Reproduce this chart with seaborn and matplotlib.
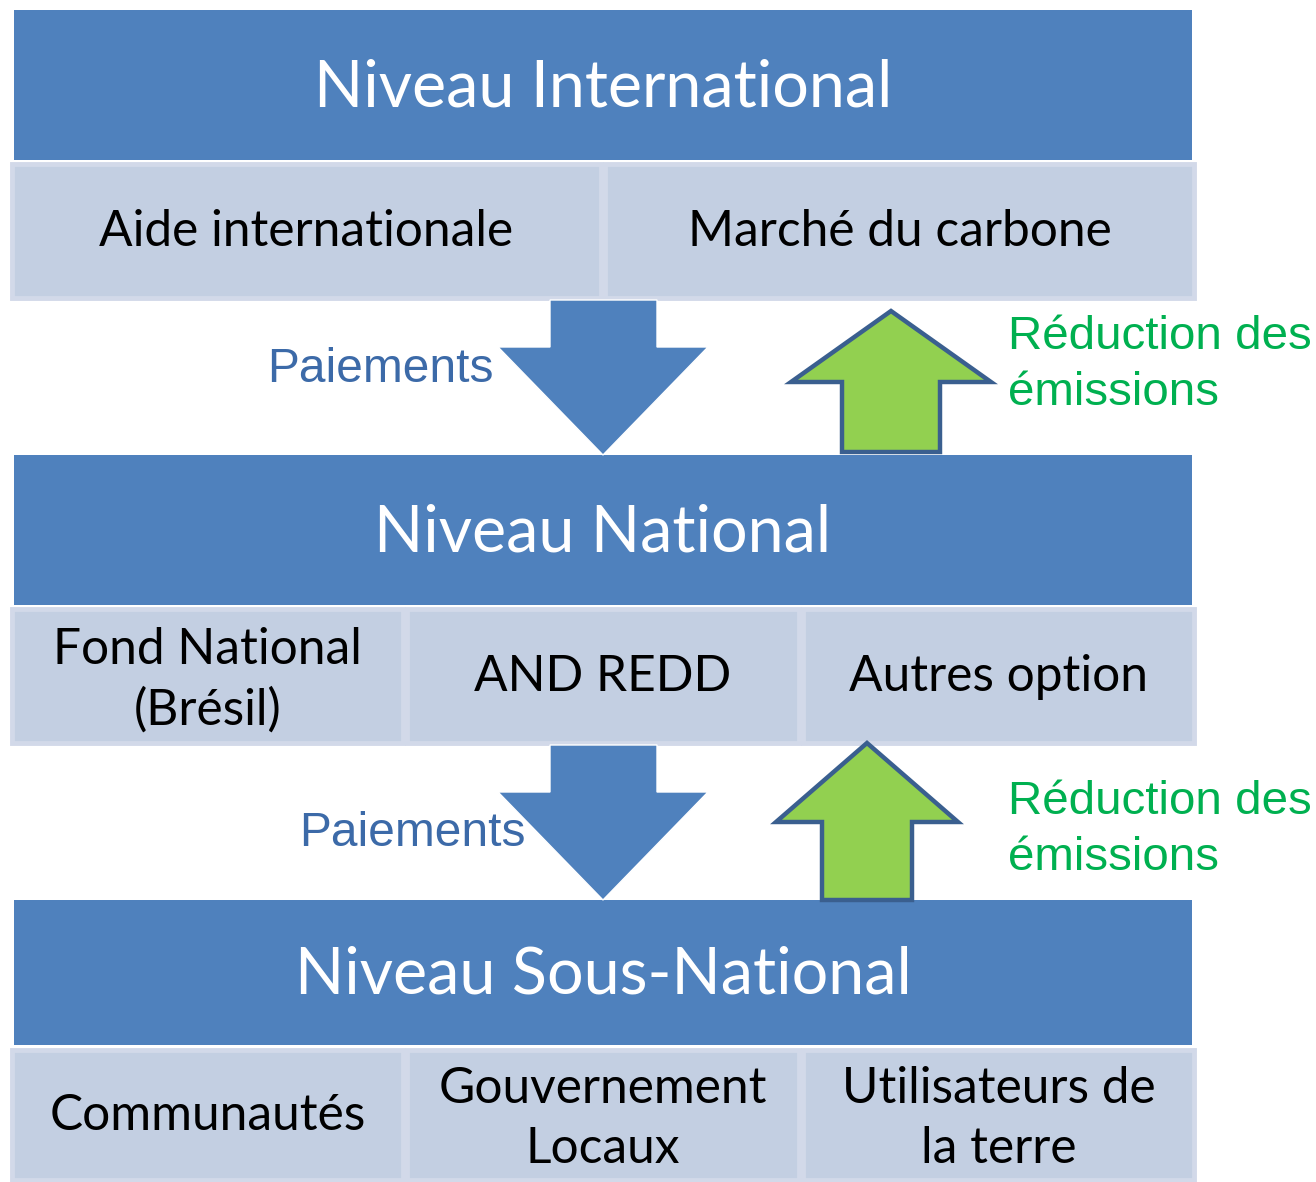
import matplotlib
matplotlib.use("Agg")
import matplotlib.pyplot as plt
from matplotlib.patches import Rectangle, Polygon
import seaborn as sns

# ---- content ----
level_titles = ["Niveau International", "Niveau National", "Niveau Sous-National"]
level_items = [
    ["Aide internationale", "Marché du carbone"],
    ["Fond National\n(Brésil)", "AND REDD", "Autres option"],
    ["Communautés", "Gouvernement\nLocaux", "Utilisateurs de\nla terre"],
]
down_label = "Paiements"
up_label = "Réduction des\némissions"

# ---- style ----
sns.set_theme(style="white")
plt.rcParams['font.family'] = ['Lato', 'DejaVu Sans']
BLUE = "#4F81BD"
CELL = "#C3CFE2"
CELL_EDGE = "#D2D9E9"
GREEN = "#92D050"
DARK = "#3A5F8F"
TXT_BLUE = "#3C6AA8"
TXT_GREEN = "#00B050"

W, H = 1316, 1182
fig = plt.figure(figsize=(W / 100, H / 100), dpi=100)
ax = fig.add_axes([0, 0, 1, 1])
ax.set_xlim(0, W)
ax.set_ylim(H, 0)
ax.axis("off")

# layout (pixel frame)
header_tops = [10, 455, 900]
header_h = [150, 150, 145]
row_tops = [162, 607, 1048]
row_h = [138, 138, 134]
x0, x1 = 10, 1196

for i, title in enumerate(level_titles):
    ax.add_patch(Rectangle((14, header_tops[i]), 1178, header_h[i],
                           facecolor=BLUE, edgecolor="none", zorder=1))
    ax.text(603, header_tops[i] + header_h[i] / 2 + 3, title, color="white",
            fontsize=46.5, ha="center", va="center", zorder=5)
    items = level_items[i]
    n = len(items)
    cw = (x1 - x0) / n
    for j, it in enumerate(items):
        cx = x0 + j * cw
        ax.add_patch(Rectangle((cx + 2, row_tops[i] + 2), cw - 4, row_h[i] - 4,
                               facecolor=CELL, edgecolor=CELL_EDGE, linewidth=3.5, zorder=2))
        dy = 4 if "\n" in it else 1
        ax.text(cx + cw / 2, row_tops[i] + row_h[i] / 2 + dy, it, color="black",
                fontsize=35.7, ha="center", va="center", linespacing=1.38, zorder=5)

# down arrows (blue)
def down_arrow(top, tip):
    pts = [(550, top), (657, top), (657, top + 47), (708, top + 47),
           (603, tip), (498, top + 47), (550, top + 47)]
    ax.add_patch(Polygon(pts, closed=True, facecolor=BLUE, edgecolor="white",
                         linewidth=1.0, zorder=3))

down_arrow(300, 455)
down_arrow(745, 900)

# up arrows (green)
def up_arrow(cx, tip, base_y, bottom, half_head, half_shaft):
    pts = [(cx, tip), (cx + half_head, base_y), (cx + half_shaft, base_y),
           (cx + half_shaft, bottom), (cx - half_shaft, bottom),
           (cx - half_shaft, base_y), (cx - half_head, base_y)]
    ax.add_patch(Polygon(pts, closed=True, facecolor=GREEN, edgecolor=DARK,
                         linewidth=3.2, joinstyle="miter", zorder=4))

up_arrow(891, 311, 382, 452, 100, 49)
up_arrow(867, 743, 822, 900, 91, 45)

# flow labels
for (xr, yc) in [(494, 369), (526, 834)]:
    ax.text(xr, yc, down_label, color=TXT_BLUE, fontsize=34.5, ha="right",
            va="center", family=["Liberation Sans", "DejaVu Sans"], zorder=6)
for yc in [365, 830]:
    ax.text(1008, yc, up_label, color=TXT_GREEN, fontsize=34.2, ha="left",
            va="center", linespacing=1.35, family=["Liberation Sans", "DejaVu Sans"], zorder=6)

fig.savefig("out.png", dpi=100, facecolor="white")
